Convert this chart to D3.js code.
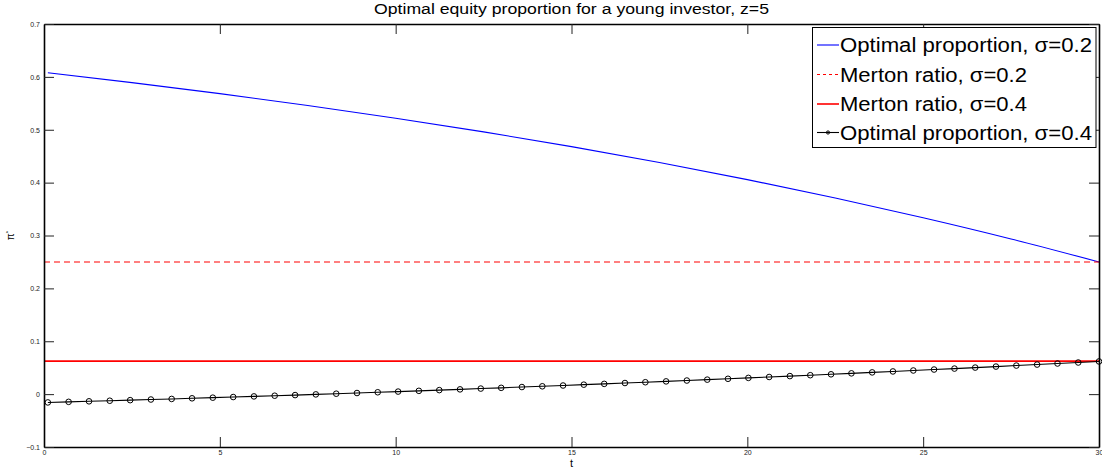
<!DOCTYPE html>
<html>
<head>
<meta charset="utf-8">
<script src="https://cdn.jsdelivr.net/npm/d3@7"></script>
<style>
  html, body { margin: 0; padding: 0; background: #fff; }
  svg { display: block; font-family: "Liberation Sans", Arial, Helvetica, sans-serif; }
</style>
</head>
<body>
<svg id="chart" width="1102" height="472"></svg>
<script>
// Optimal proportion, sigma = 0.2 (smooth curve)
const tSmooth = [0.11, 2.5, 5, 7.5, 10, 12.5, 15, 17.5, 20, 22.5, 25, 27.5, 30];
const optimal02 = [0.6077, 0.5891, 0.5683, 0.5460, 0.5219, 0.4960, 0.4681,
                   0.4381, 0.4057, 0.3709, 0.3335, 0.2934, 0.2500];

// Optimal proportion, sigma = 0.4 (sampled with markers)
const tMarked = [0.11, 0.70, 1.28, 1.87, 2.45, 3.04, 3.63, 4.21, 4.80, 5.38,
                 5.97, 6.56, 7.14, 7.73, 8.31, 8.90, 9.49, 10.07, 10.66, 11.24,
                 11.83, 12.42, 13.00, 13.59, 14.17, 14.76, 15.35, 15.93, 16.52, 17.10,
                 17.69, 18.28, 18.86, 19.45, 20.03, 20.62, 21.21, 21.79, 22.38, 22.96,
                 23.55, 24.14, 24.72, 25.31, 25.89, 26.48, 27.07, 27.65, 28.24, 28.82,
                 29.41, 30.00];
const optimal04 = [-0.0157, -0.0146, -0.0136, -0.0125, -0.0114, -0.0102, -0.0091, -0.0079, -0.0067, -0.0055,
                   -0.0043, -0.0030, -0.0018, -0.0005, 0.0008, 0.0021, 0.0035, 0.0048, 0.0062, 0.0076,
                   0.0090, 0.0105, 0.0119, 0.0134, 0.0148, 0.0163, 0.0179, 0.0194, 0.0210, 0.0225,
                   0.0241, 0.0257, 0.0274, 0.0290, 0.0307, 0.0324, 0.0341, 0.0358, 0.0375, 0.0393,
                   0.0411, 0.0429, 0.0447, 0.0465, 0.0483, 0.0502, 0.0521, 0.0540, 0.0559, 0.0579,
                   0.0598, 0.0618];

// Constant Merton ratios
const mertonT = [0, 30];
const merton02 = 0.25;
const merton04 = 0.0625;

const xTicks = [0, 5, 10, 15, 20, 25, 30];
const yTicks = [-0.1, 0, 0.1, 0.2, 0.3, 0.4, 0.5, 0.6, 0.7];

const legendLabels = [
  "Optimal proportion, \u03C3=0.2",
  "Merton ratio, \u03C3=0.2",
  "Merton ratio, \u03C3=0.4",
  "Optimal proportion, \u03C3=0.4"
];

const svg = d3.select("#chart");
const plotLeft = 44, plotRight = 1099, plotTop = 24, plotBottom = 447;

const x = d3.scaleLinear().domain([0, 30]).range([plotLeft, plotRight]);
const y = d3.scaleLinear().domain([-0.1, 0.7]).range([plotBottom, plotTop]);

// Data lines
const line = d3.line().x(d => x(d[0])).y(d => y(d[1]));
const smoothLine = d3.line().x(d => x(d[0])).y(d => y(d[1])).curve(d3.curveMonotoneX);

const plot = svg.append("g");

plot.append("path")
  .datum(tSmooth.map((t, i) => [t, optimal02[i]]))
  .attr("d", smoothLine)
  .attr("fill", "none").attr("stroke", "#0000ff").attr("stroke-width", 1.1);

plot.append("path")
  .datum(mertonT.map(t => [t, merton02]))
  .attr("d", line)
  .attr("fill", "none").attr("stroke", "#ff0000").attr("stroke-width", 1.1)
  .attr("stroke-dasharray", "6,4");

plot.append("path")
  .datum(mertonT.map(t => [t, merton04]))
  .attr("d", line)
  .attr("fill", "none").attr("stroke", "#ff0000").attr("stroke-width", 1.6);

const marked = tMarked.map((t, i) => [t, optimal04[i]]);
plot.append("path")
  .datum(marked)
  .attr("d", line)
  .attr("fill", "none").attr("stroke", "#000").attr("stroke-width", 1.1);

plot.selectAll("circle.mk")
  .data(marked)
  .join("circle")
  .attr("class", "mk")
  .attr("cx", d => x(d[0])).attr("cy", d => y(d[1]))
  .attr("r", 2.8)
  .attr("fill", "none").attr("stroke", "#000").attr("stroke-width", 1);

// Axes box with inward ticks on all four sides
const tickLen = 10;
const fmt = d => (d === 0 ? "0" : d3.format(".1f")(d));

const xBottom = svg.append("g").attr("transform", `translate(0,${plotBottom})`)
  .call(d3.axisBottom(x).tickValues(xTicks).tickSizeInner(-tickLen).tickSizeOuter(0).tickPadding(3).tickFormat(d3.format("d")));
const xTop = svg.append("g").attr("transform", `translate(0,${plotTop})`)
  .call(d3.axisTop(x).tickValues(xTicks).tickSizeInner(-tickLen).tickSizeOuter(0).tickFormat(""));
const yLeft = svg.append("g").attr("transform", `translate(${plotLeft},0)`)
  .call(d3.axisLeft(y).tickValues(yTicks).tickSizeInner(-tickLen).tickSizeOuter(0).tickPadding(4).tickFormat(fmt));
const yRight = svg.append("g").attr("transform", `translate(${plotRight},0)`)
  .call(d3.axisRight(y).tickValues(yTicks).tickSizeInner(-tickLen).tickSizeOuter(0).tickFormat(""));

[xBottom, xTop, yLeft, yRight].forEach(g => {
  g.select(".domain").attr("stroke", "#000").attr("stroke-width", 1.6);
  g.selectAll(".tick line").attr("stroke", "#222").attr("stroke-width", 1);
  g.selectAll(".tick text")
    .attr("fill", "#222")
    .style("font-size", "7px")
    .style("font-family", "'Liberation Sans', Arial, sans-serif");
});

// Title and axis labels
svg.append("text")
  .attr("x", (plotLeft + plotRight) / 2).attr("y", 14)
  .attr("text-anchor", "middle")
  .attr("textLength", 395).attr("lengthAdjust", "spacingAndGlyphs")
  .style("font-size", "14px").attr("fill", "#000")
  .text("Optimal equity proportion for a young investor, z=5");

svg.append("text")
  .attr("x", (plotLeft + plotRight) / 2).attr("y", 467)
  .attr("text-anchor", "middle")
  .style("font-size", "11px").attr("fill", "#000")
  .text("t");

const yl = svg.append("text")
  .attr("transform", `translate(14,${(plotTop + plotBottom) / 2}) rotate(-90)`)
  .attr("text-anchor", "middle")
  .style("font-size", "10px").attr("fill", "#000");
yl.append("tspan").text("\u03C0");
yl.append("tspan").attr("dy", -4).style("font-size", "6px").text("*");

// Legend
const legend = svg.append("g");
const lgX = 812.5, lgY = 27.5, lgW = 283.5, lgH = 120;
legend.append("rect")
  .attr("x", lgX).attr("y", lgY).attr("width", lgW).attr("height", lgH)
  .attr("fill", "#fff").attr("stroke", "#000").attr("stroke-width", 1);

const rowY = [45, 74.5, 104, 132.5];
const rowWidth = [252, 187, 187, 252];
const styles = [
  { stroke: "#0000ff", width: 1.1, dash: null, marker: false },
  { stroke: "#ff0000", width: 1.1, dash: "3,3", marker: false },
  { stroke: "#ff0000", width: 1.6, dash: null, marker: false },
  { stroke: "#000", width: 1.1, dash: null, marker: true }
];
legendLabels.forEach((label, i) => {
  const s = styles[i];
  const row = legend.append("g");
  row.append("line")
    .attr("x1", 817).attr("x2", 839)
    .attr("y1", rowY[i]).attr("y2", rowY[i])
    .attr("stroke", s.stroke).attr("stroke-width", s.width)
    .attr("stroke-dasharray", s.dash);
  if (s.marker) {
    row.append("circle").attr("cx", 828).attr("cy", rowY[i]).attr("r", 1.6)
      .attr("fill", "none").attr("stroke", "#000").attr("stroke-width", 1);
  }
  row.append("text")
    .attr("x", 840).attr("y", rowY[i] + 7)
    .attr("textLength", rowWidth[i]).attr("lengthAdjust", "spacingAndGlyphs")
    .style("font-size", "19.5px").attr("fill", "#000")
    .text(label);
});
</script>
</body>
</html>
